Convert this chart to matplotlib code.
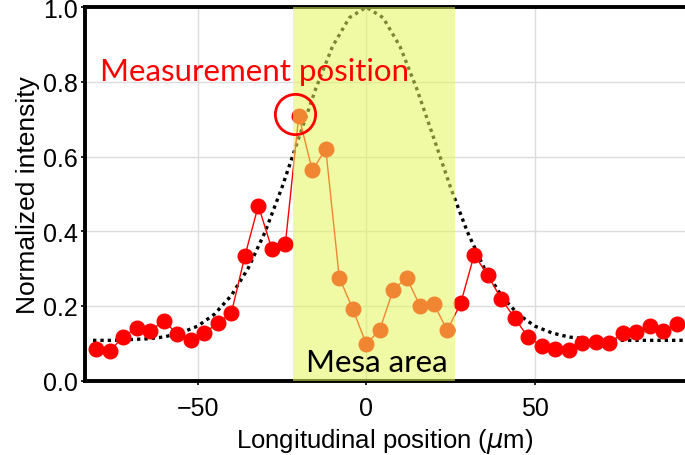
import numpy as np
import matplotlib.pyplot as plt
import matplotlib.transforms as mtrans

# measured points (um, normalized)
pos = [-80, -76, -72, -68, -64, -60, -56, -52, -48, -44, -40, -36, -32, -28, -24,
       -20, -16, -12, -8, -4, 0, 4, 8, 12, 16, 20, 24, 28, 32, 36, 40, 44, 48,
       52, 56, 60, 64, 68, 72, 76, 80, 84, 88, 92]
inten = [0.086, 0.080, 0.118, 0.142, 0.133, 0.161, 0.124, 0.108, 0.128, 0.154,
         0.181, 0.333, 0.469, 0.353, 0.365, 0.709, 0.563, 0.620, 0.276, 0.192,
         0.098, 0.136, 0.244, 0.275, 0.199, 0.206, 0.135, 0.207, 0.337, 0.283,
         0.219, 0.168, 0.116, 0.093, 0.086, 0.083, 0.101, 0.104, 0.101, 0.127,
         0.131, 0.147, 0.134, 0.152]
meas_idx = 15

# fitted profile (dotted)
fit_x = [-81, -75, -70, -65, -60, -55, -50, -45, -40, -35, -30, -25, -20,
         -15, -10, -5, 0, 5, 10, 15, 20, 25, 30, 35, 40, 45, 50, 55, 60, 65,
         70, 75, 80, 85, 90, 95]
fit_y = [0.108, 0.108, 0.110, 0.112, 0.117, 0.128, 0.146, 0.178, 0.228,
         0.301, 0.398, 0.517, 0.650, 0.781, 0.895, 0.972, 1.0, 0.972, 0.895,
         0.781, 0.650, 0.517, 0.398, 0.301, 0.228, 0.178, 0.146, 0.128, 0.117,
         0.112, 0.110, 0.108, 0.108, 0.108, 0.108, 0.108]

mesa = (-21.6, 26.3)

fig = plt.figure(figsize=(6.85, 4.56), dpi=100)
ax = fig.add_axes([0.124, 0.163, 0.876, 0.819])
ax.set_axisbelow(True)
ax.grid(True, color='#dcdcdc', lw=1.0)

ax.plot(fit_x, fit_y, ls=(0, (1, 1.2)), color='black', lw=2.4, zorder=2)
ax.plot(pos, inten, color='red', lw=1.0, marker='o', ms=10.5,
        mfc='red', mec='red', zorder=2.2)

ax.axvspan(*mesa, color='#e4f65b', alpha=0.55, lw=0, zorder=3)

# circle round the measurement point, drawn above the mesa band
off = mtrans.offset_copy(ax.transData, fig=fig, x=-4, y=2, units='dots')
ax.plot(pos[meas_idx], inten[meas_idx], marker='o', ms=29, mfc='none',
        mec='red', mew=2.0, transform=off, zorder=4, clip_on=False)

ax.text(-79, 0.805, 'Measurement position', color='red', fontsize=22.5,
        family='Lato', zorder=5)
ax.text(-17.8, 0.025, 'Mesa area', color='black', fontsize=22.5,
        family='Lato', zorder=5)

ax.set_xlim(-83.4, 94.5)
ax.set_ylim(0, 1.0)
ax.set_xticks([-50, 0, 50])
ax.set_yticks([0.0, 0.2, 0.4, 0.6, 0.8, 1.0])
ax.set_yticklabels(['0.0', '0.2', '0.4', '0.6', '0.8', '1.0'])
for s in ['left', 'bottom', 'top']:
    ax.spines[s].set_linewidth(2.8)
    ax.spines[s].set_zorder(2.5)
ax.spines['right'].set_visible(False)
ax.tick_params(axis='both', labelsize=18, length=3, width=1.2,
               labelfontfamily='Liberation Sans')
ax.tick_params(axis='x', pad=8)
ax.tick_params(axis='y', pad=2)
ax.set_xlabel('Longitudinal position ($\\mu$m)', fontsize=18.5,
              family='Liberation Sans', labelpad=4)
ax.set_ylabel('Normalized intensity', fontsize=19, family='Liberation Sans',
              labelpad=2)

fig.savefig('out.png', dpi=100)
